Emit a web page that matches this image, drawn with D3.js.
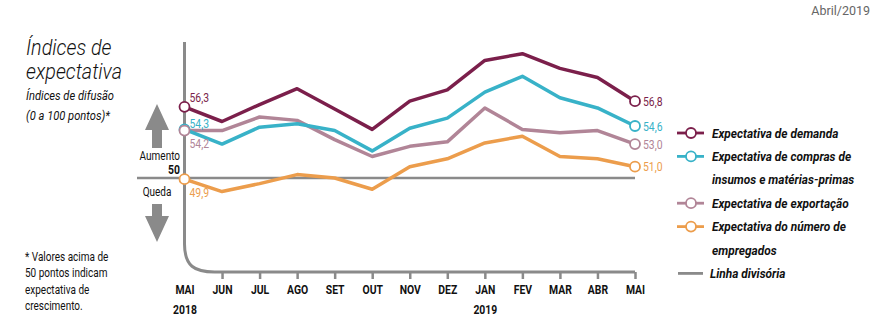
<!DOCTYPE html>
<html>
<head>
<meta charset="utf-8">
<script src="https://cdn.jsdelivr.net/npm/d3@7"></script>
<style>
  body { margin: 0; background: #fff; }
  svg text { font-family: Roboto, "Noto Sans", sans-serif; }
</style>
</head>
<body>
<svg width="877" height="327"></svg>
<script>
// month categories along the bottom
var months = ["MAI", "JUN", "JUL", "AGO", "SET", "OUT", "NOV", "DEZ", "JAN", "FEV", "MAR", "ABR", "MAI"];
var years = {0: "2018", 8: "2019"};

// series (índices de difusão, 0 a 100)
var demanda     = [56.3, 55.0, 56.5, 57.9, 56.1, 54.3, 56.8, 57.8, 60.4, 61.0, 59.7, 58.9, 56.8];
var compras     = [54.3, 53.0, 54.5, 54.8, 54.2, 52.4, 54.4, 55.3, 57.6, 59.0, 57.1, 56.2, 54.6];
var exportacao  = [54.2, 54.2, 55.4, 55.1, 53.4, 51.9, 52.8, 53.2, 56.2, 54.3, 54.0, 54.2, 53.0];
var empregados  = [49.9, 48.8, 49.5, 50.3, 50.0, 49.0, 51.0, 51.7, 53.1, 53.7, 51.9, 51.7, 51.0];

var series = [
  {name: "demanda", values: demanda, color: "#7b1f4b", first: "56,3", last: "56,8", fdy: -5},
  {name: "compras", values: compras, color: "#38b2c8", first: "54,3", last: "54,6", fdy: -1},
  {name: "exportacao", values: exportacao, color: "#b18597", first: "54,2", last: "53,0", fdy: 17},
  {name: "empregados", values: empregados, color: "#ec9d4c", first: "49,9", last: "51,0", fdy: 18}
];

var legend_rows = [
  {lines: ["Expectativa de demanda"], color: "#7b1f4b"},
  {lines: ["Expectativa de compras de", "insumos e matérias-primas"], color: "#38b2c8"},
  {lines: ["Expectativa de exportação"], color: "#b18597"},
  {lines: ["Expectativa do número de", "empregados"], color: "#ec9d4c"},
  {lines: ["Linha divisória"], color: "#8a8a8a", plain: true}
];

var gray = "#8a8a8a";
var narrow = 0.8;   // squeeze to mimic the condensed face
var svg = d3.select("svg");

var x = d3.scalePoint().domain(d3.range(months.length)).range([184.5, 635]);
var y = d3.scaleLinear().domain([50, 60]).range([178, 65]);

// condensed text helper
function txt(parent, tx, ty, s, st) {
  st = st || {};
  var sx = st.sx || narrow;
  var t = parent.append("text")
    .attr("transform", "translate(" + [tx, ty] + ") scale(" + sx + ",1)")
    .text(s);
  Object.keys(st).forEach(function(k){
    if (k === "sx") return;
    if (k === "anchor") t.attr("text-anchor", st[k]); else t.style(k, st[k]);
  });
  return t;
}

// ---------- header texts ----------
svg.append("text").attr("x", 870).attr("y", 15).attr("text-anchor", "end")
  .style("font-size", "12.5px").style("fill", "#666").text("Abril/2019");

var ttl = {"font-size": "21.5px", "font-style": "italic", "font-weight": 300, "fill": "#111", sx: 0.92};
txt(svg, 26, 55, "Índices de", ttl);
txt(svg, 26, 79, "expectativa", ttl);
var sub = {"font-size": "12px", "font-style": "italic", "fill": "#111", sx: 0.93};
txt(svg, 26, 100, "Índices de difusão", sub);
txt(svg, 26, 120, "(0 a 100 pontos)*", sub);

var foot = ["* Valores acima de", "50 pontos indicam", "expectativa de", "crescimento."];
foot.forEach(function(d, i){
  txt(svg, 25, 261 + i * 16.3, d, {"font-size": "12.5px", "fill": "#111"});
});

// ---------- arrows ----------
var ax = 157;
svg.append("path").attr("fill", gray)
  .attr("d", "M" + ax + ",104 L" + (ax + 12) + ",130 L" + (ax + 5) + ",130 L" + (ax + 5) + ",148 L" + (ax - 5) + ",148 L" + (ax - 5) + ",130 L" + (ax - 12) + ",130 Z");
svg.append("path").attr("fill", gray)
  .attr("d", "M" + ax + ",242 L" + (ax + 12) + ",216 L" + (ax + 5) + ",216 L" + (ax + 5) + ",204 L" + (ax - 5) + ",204 L" + (ax - 5) + ",216 L" + (ax - 12) + ",216 Z");

txt(svg, 180, 160, "Aumento", {"font-size": "12.5px", "fill": "#111", anchor: "end"});
txt(svg, 180, 174, "50", {"font-size": "13px", "font-weight": "bold", "fill": "#111", anchor: "end"});
txt(svg, 157, 196, "Queda", {"font-size": "12.5px", "fill": "#111", anchor: "middle"});

// ---------- axes ----------
svg.append("line").attr("x1", 137).attr("x2", x(12)).attr("y1", y(50)).attr("y2", y(50))
  .attr("stroke", gray).attr("stroke-width", 2.5);

var base = 272;
svg.append("path").attr("fill", "none").attr("stroke", gray).attr("stroke-width", 3)
  .attr("d", "M" + x(0) + ",42 L" + x(0) + ",244 C" + x(0) + ",266 " + (x(0) + 10) + "," + base + " " + (x(0) + 30) + "," + base + " L" + x(12) + "," + base);

var xAxis = d3.axisBottom(x).tickSize(7).tickPadding(6).tickFormat(function(d){ return months[d] });
var gx = svg.append("g").attr("transform", "translate(0," + base + ")").call(xAxis);
gx.select(".domain").remove();
gx.selectAll(".tick line").attr("stroke", gray).attr("stroke-width", 2.5)
  .attr("display", function(d){ return d === 0 ? "none" : null });
gx.selectAll(".tick text").attr("transform", "scale(" + narrow + ",1)")
  .style("font-size", "13px").style("font-weight", "bold").style("fill", "#111")
  .style("font-family", "Roboto, sans-serif");
gx.selectAll(".tick").filter(function(d){ return years[d] }).append("text")
  .attr("transform", "scale(" + narrow + ",1)")
  .attr("y", 33).attr("dy", "0.71em").attr("text-anchor", "middle")
  .style("font-size", "13px").style("font-weight", "bold").style("fill", "#111")
  .style("font-family", "Roboto, sans-serif")
  .text(function(d){ return years[d] });

// ---------- series ----------
var line = d3.line().x(function(d, i){ return x(i) }).y(function(d){ return y(d) });

var sg = svg.append("g").classed("series", true);
series.slice().reverse().forEach(function(s){
  sg.append("path").attr("d", line(s.values)).attr("fill", "none")
    .attr("stroke", s.color).attr("stroke-width", 3.5).attr("stroke-linejoin", "round");
});
series.forEach(function(s){
  var n = s.values.length - 1;
  [0, n].forEach(function(i){
    sg.append("circle").attr("cx", x(i)).attr("cy", y(s.values[i])).attr("r", 5)
      .attr("fill", "#fff").attr("stroke", s.color).attr("stroke-width", 1.8);
  });
  txt(sg, x(0) + 5, y(s.values[0]) + s.fdy, s.first, {"font-size": "13px", "fill": s.color});
  txt(sg, x(n) + 8, y(s.values[n]) + 4.5, s.last, {"font-size": "13px", "fill": s.color});
});

// ---------- legend ----------
var ly = 133, lstep = 23.4;
var lg = svg.append("g").classed("legend", true);
var row = 0;
legend_rows.forEach(function(r){
  var yy = ly + row * lstep;
  if (r.plain) {
    lg.append("line").attr("x1", 678).attr("x2", 703).attr("y1", yy).attr("y2", yy)
      .attr("stroke", r.color).attr("stroke-width", 2.8);
  } else {
    lg.append("line").attr("x1", 677).attr("x2", 704).attr("y1", yy).attr("y2", yy)
      .attr("stroke", r.color).attr("stroke-width", 2.8);
    lg.append("circle").attr("cx", 691).attr("cy", yy).attr("r", 5)
      .attr("fill", "#fff").attr("stroke", r.color).attr("stroke-width", 1.8);
  }
  r.lines.forEach(function(t, k){
    txt(lg, r.plain ? 710 : 712, yy + 4.5 + k * lstep, t,
      {"font-size": "13.5px", "font-weight": "bold", "font-style": "italic", "fill": "#111", sx: 0.88});
  });
  row += r.lines.length;
});
</script>
</body>
</html>
